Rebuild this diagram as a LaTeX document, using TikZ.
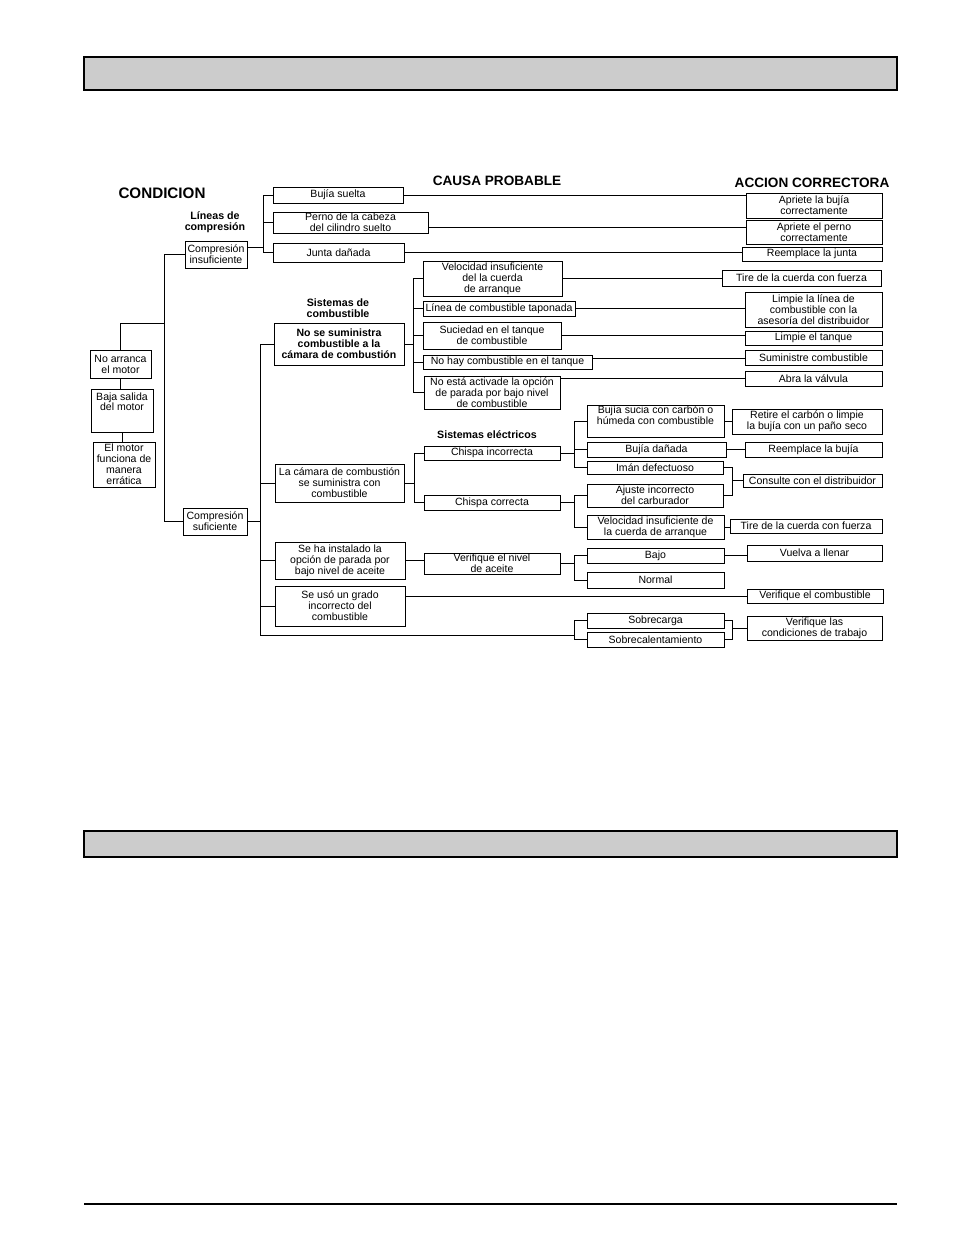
\documentclass[tikz,border=0pt]{standalone}
\usepackage{fontspec}
\setmainfont{Liberation Sans}
\definecolor{bargray}{HTML}{CCCCCC}

\begin{document}
\begin{tikzpicture}[x=0.75pt,y=-0.75pt,
  sz/.style 2 args={minimum width=#1*0.75pt,minimum height=#2*0.75pt},
  ]
  \useasboundingbox (0,0) rectangle (954,1235);
  % page bars
  \filldraw[fill=bargray,line width=1.5pt] (84,57) rectangle (897,90);
  \filldraw[fill=bargray,line width=1.3pt] (84,831) rectangle (897,857);
  \draw[line width=1.3pt] (84,1204) -- (897,1204);

  % column headings
  \begin{scope}[
    every node/.style={inner sep=0pt,font=\fontsize{10.2}{12}\selectfont\bfseries},
    ]
    \node (hd-cond)   at (162,193) {\fontsize{11.4}{13}\selectfont CONDICION};
    \node (hd-causa)  at (497,181) {CAUSA PROBABLE};
    \node (hd-accion) at (812,183) {ACCION CORRECTORA};
  \end{scope}
  % group labels
  \begin{scope}[
    every node/.style={inner sep=0pt,align=center,font=\fontsize{8}{8.3}\selectfont\bfseries},
    ]
    \node (lb-lineas) at (215,222) {Líneas de\\compresión};
    \node (lb-comb)   at (338,308) {Sistemas de\\combustible};
    \node (lb-elec)   at (487,435) {Sistemas eléctricos};
  \end{scope}

  \begin{scope}[
    every node/.style={
      draw,
      line width=0.7pt,
      inner sep=0pt,
      align=center,
      font=\fontsize{7.9}{8.2}\selectfont,
    },
    ]
    % condicion
    \node[sz={61}{28}] (na) at (120.5,364)   {No arranca\\el motor};
    \node[sz={62}{43}] (bs) at (122,410.5)   {Baja salida\\del motor\\[5pt]};
    \node[sz={62}{45}] (em) at (124,464.5)   {El motor\\funciona de\\manera\\errática};
    \node[sz={62}{27}] (ci) at (216,254.5)   {Compresión\\insuficiente};
    \node[sz={64}{27}] (cs) at (215,521.5)   {Compresión\\suficiente};
    % causa probable
    \node[sz={130}{16}] (bujia)  at (338,195)     {Bujía suelta};
    \node[sz={155}{21}] (perno)  at (350.5,222.5) {Perno de la cabeza\\del cilindro suelto};
    \node[sz={131}{19}] (junta)  at (338.5,252.5) {Junta dañada};
    \node[sz={130}{42},font=\fontsize{7.9}{8.2}\selectfont\bfseries]
                        (nss)    at (339,344)     {No se suministra\\combustible a la\\cámara de combustión};
    \node[sz={139}{35}] (vel1)   at (492.5,278.5) {Velocidad insuficiente\\del la cuerda\\de arranque};
    \node[sz={152}{15}] (linea)  at (499,308.5)   {Línea de combustible taponada};
    \node[sz={138}{27}] (suc)    at (492,335.5)   {Suciedad en el tanque\\de combustible};
    \node[sz={169}{14}] (nohay)  at (507.5,362)   {No hay combustible en el tanque};
    \node[sz={136}{33}] (noesta) at (492,392.5)   {No está activade la opción\\de parada por bajo nivel\\de combustible};
    \node[sz={129}{38}] (lc)     at (339.5,483)   {La cámara de combustión\\se suministra con\\combustible};
    \node[sz={136}{14}] (ci2)    at (492,453)     {Chispa incorrecta};
    \node[sz={136}{15}] (cc)     at (492,502.5)   {Chispa correcta};
    \node[sz={137}{32}] (bsuc)   at (655.5,421)   {Bujía sucia con carbón o\\húmeda con combustible\\[1pt]};
    \node[sz={139}{15}] (bdan)   at (656.5,449.5) {Bujía dañada};
    \node[sz={136}{13}] (iman)   at (655,467.5)   {Imán defectuoso};
    \node[sz={136}{23}] (ajuste) at (655,495.5)   {Ajuste incorrecto\\del carburador};
    \node[sz={137}{24}] (vel2)   at (655.5,527)   {Velocidad insuficiente de\\la cuerda de arranque};
    \node[sz={130}{37}] (sh)     at (340,560.5)   {Se ha instalado la\\opción de parada por\\bajo nivel de aceite};
    \node[sz={136}{21}] (vn)     at (492,563.5)   {Verifique el nivel\\de aceite};
    \node[sz={137}{15}] (bajo)   at (655.5,555.5) {Bajo};
    \node[sz={137}{16}] (normal) at (655.5,580)   {Normal};
    \node[sz={130}{40}] (seuso)  at (340,606)     {Se usó un grado\\incorrecto del\\combustible};
    \node[sz={137}{15}] (sobrecarga) at (655.5,620.5) {Sobrecarga};
    \node[sz={137}{15}] (sobrecal)   at (655.5,639.5) {Sobrecalentamiento};
    % accion correctora
    \node[sz={136}{25}] (ab)       at (814,205.5)   {Apriete la bujía\\correctamente};
    \node[sz={136}{24}] (ap)       at (814,232)     {Apriete el perno\\correctamente};
    \node[sz={140}{14}] (rj)       at (812,254)     {Reemplace la junta};
    \node[sz={159}{16}] (tire1)    at (801.5,278)   {Tire de la cuerda con fuerza};
    \node[sz={137}{35}] (ll)       at (813.5,309.5) {Limpie la línea de\\combustible con la\\asesoría del distribuidor};
    \node[sz={137}{14}] (lt)       at (813.5,338)   {Limpie el tanque};
    \node[sz={137}{15}] (sum)      at (813.5,358)   {Suministre combustible};
    \node[sz={137}{15}] (abra)     at (813.5,378.5) {Abra la válvula};
    \node[sz={150}{25}] (retire)   at (807,421.5)   {Retire el carbón o limpie\\la bujía con un paño seco};
    \node[sz={137}{15}] (rb)       at (813.5,449.5) {Reemplace la bujía};
    \node[sz={139}{13}] (consulte) at (812.5,480.5) {Consulte con el distribuidor};
    \node[sz={152}{14}] (tire2)    at (806,526)     {Tire de la cuerda con fuerza};
    \node[sz={135}{16}] (vuelva)   at (814.5,553)   {Vuelva a llenar};
    \node[sz={136}{14}] (vc)       at (815,596)     {Verifique el combustible};
    \node[sz={135}{24}] (vcond)    at (814.5,628)   {Verifique las\\condiciones de trabajo};
  \end{scope}

  \begin{scope}[line width=0.7pt]
    % condicion tree
    \coordinate (cond-bus) at (164,323);
    \coordinate (ov-bus) at (574,635);
    \draw (na.north) |- (cond-bus);
    \draw (ci.west) -| (cond-bus);
    \draw (cs.west) -| (cond-bus);
    \draw (na.south) -- (na.south |- bs.north);
    \draw (bs.south) -- (bs.south |- em.north);
    % branches
    \foreach \nm in {bujia,perno,junta}
      \draw ([yshift=5pt]ci.east) -- ++(16,0) |- (\nm.west);
    \foreach \nm in {nss,lc,sh,seuso}
      \draw (cs.east) -- ++(13,0) |- (\nm.west);
    \draw (cs.east) -- ++(13,0) |- (ov-bus);
    \draw (sobrecarga.west) -| (ov-bus);
    \draw (sobrecal.west) -| (ov-bus);
    \foreach \nm in {vel1,linea,suc,nohay,noesta}
      \draw (nss.east) -- ++(9,0) |- (\nm.west);
    \foreach \nm in {ci2,cc}
      \draw (lc.east) -- ++(10,0) |- (\nm.west);
    \foreach \nm in {bsuc,bdan,iman}
      \draw (ci2.east) -- ++(14,0) |- (\nm.west);
    \foreach \nm in {ajuste,vel2}
      \draw (cc.east) -- ++(14,0) |- (\nm.west);
    \foreach \nm in {bajo,normal}
      \draw (vn.east) -- ++(14,0) |- (\nm.west);
    % causa -> accion
    \draw (bujia.east) -- (bujia.east -| ab.west);
    \draw ([yshift=-3.75pt]perno.east) -- ([yshift=-3.75pt]perno.east -| ap.west);
    \draw (junta.east) -- (junta.east -| rj.west);
    \draw (vel1.east) -- (vel1.east -| tire1.west);
    \draw (linea.east) -- (linea.east -| ll.west);
    \draw (suc.east) -- (suc.east -| lt.west);
    \draw (sum.west) -- (sum.west -| nohay.east);
    \draw (abra.west) -- (abra.west -| noesta.east);
    \draw (bsuc.east) -- (bsuc.east -| retire.west);
    \draw (bdan.east) -- (bdan.east -| rb.west);
    \draw (iman.east) -- ++(9,0) |- (consulte.west);
    \draw (ajuste.east) -- ++(9,0) |- (consulte.west);
    \draw (vel2.east) -- (vel2.east -| tire2.west);
    \draw (sh.east) -- (sh.east -| vn.west);
    \draw (bajo.east) -- (bajo.east -| vuelva.west);
    \draw (vc.west) -- (vc.west -| seuso.east);
    \draw (sobrecarga.east) -- ++(8,0) |- (vcond.west);
    \draw (sobrecal.east) -- ++(8,0) |- (vcond.west);
  \end{scope}
\end{tikzpicture}
\end{document}
